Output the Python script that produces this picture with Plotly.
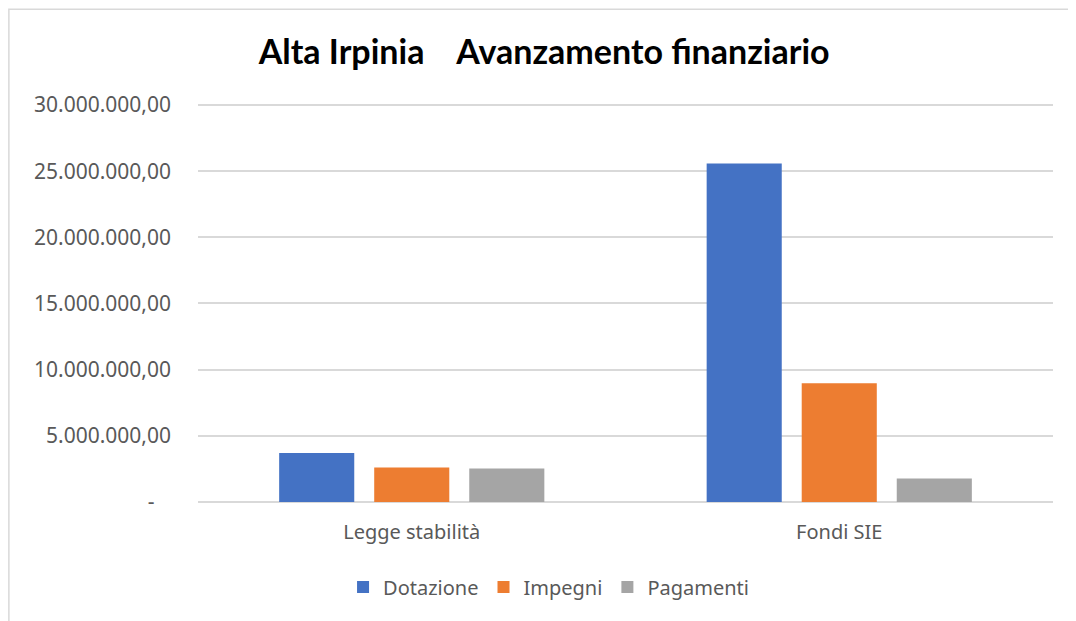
import plotly.graph_objects as go

# data
categorie = ["Legge stabilità", "Fondi SIE"]
dotazione = [3710000, 25580000]
impegni = [2600000, 8970000]
pagamenti = [2530000, 1770000]

tick_vals = [0, 5000000, 10000000, 15000000, 20000000, 25000000, 30000000]
tick_text = ["-\u00a0\u00a0\u00a0", "5.000.000,00", "10.000.000,00", "15.000.000,00",
             "20.000.000,00", "25.000.000,00", "30.000.000,00"]

serie = [
    ("Dotazione", dotazione, "#4472C4"),
    ("Impegni", impegni, "#ED7D31"),
    ("Pagamenti", pagamenti, "#A5A5A5"),
]

fig = go.Figure()
for nome, valori, colore in serie:
    fig.add_trace(go.Bar(
        x=categorie,
        y=valori,
        name=nome,
        marker=dict(color=colore, line=dict(width=0)),
    ))

# page body has an 8px margin, so the figure is a bit smaller than the window
fig.update_layout(
    width=1068,
    height=613,
    margin=dict(l=190, r=23, t=95, b=119),
    paper_bgcolor="white",
    plot_bgcolor="white",
    barmode="group",
    bargap=0.333,
    bargroupgap=0.21,
    title=dict(
        text="<b>Alta Irpinia \u00a0\u00a0 Avanzamento finanziario</b>",
        x=0.502, xref="container", xanchor="center",
        y=0.928, yref="container", yanchor="middle",
        font=dict(family="Lato", size=34, color="black"),
    ),
    font=dict(family="Noto Sans", size=20, color="#595959"),
    legend=dict(
        orientation="h",
        x=0.41, xanchor="center",
        y=-0.213, yanchor="middle",
        font=dict(size=20, color="#595959"),
        traceorder="normal",
        itemwidth=30,
    ),
    xaxis=dict(
        showline=False,
        showgrid=False,
        ticks="",
        ticklabelstandoff=16,
        tickfont=dict(size=20),
    ),
    yaxis=dict(
        # a little headroom so the 30M gridline is drawn
        range=[0, 30150000],
        tickvals=tick_vals,
        ticktext=tick_text,
        tickfont=dict(size=21),
        showgrid=True,
        gridcolor="#D9D9D9",
        gridwidth=1.5,
        zeroline=True,
        zerolinecolor="#D9D9D9",
        zerolinewidth=1.5,
        showline=False,
        ticks="",
        ticklabelstandoff=26,
    ),
    shapes=[dict(
        type="rect", xref="paper", yref="paper",
        x0=-0.2212, x1=1.06, y0=-0.35, y1=1.235,
        line=dict(color="#D9D9D9", width=1.5),
        fillcolor="rgba(0,0,0,0)",
        layer="below",
    )],
)

fig.write_html("out.html")
